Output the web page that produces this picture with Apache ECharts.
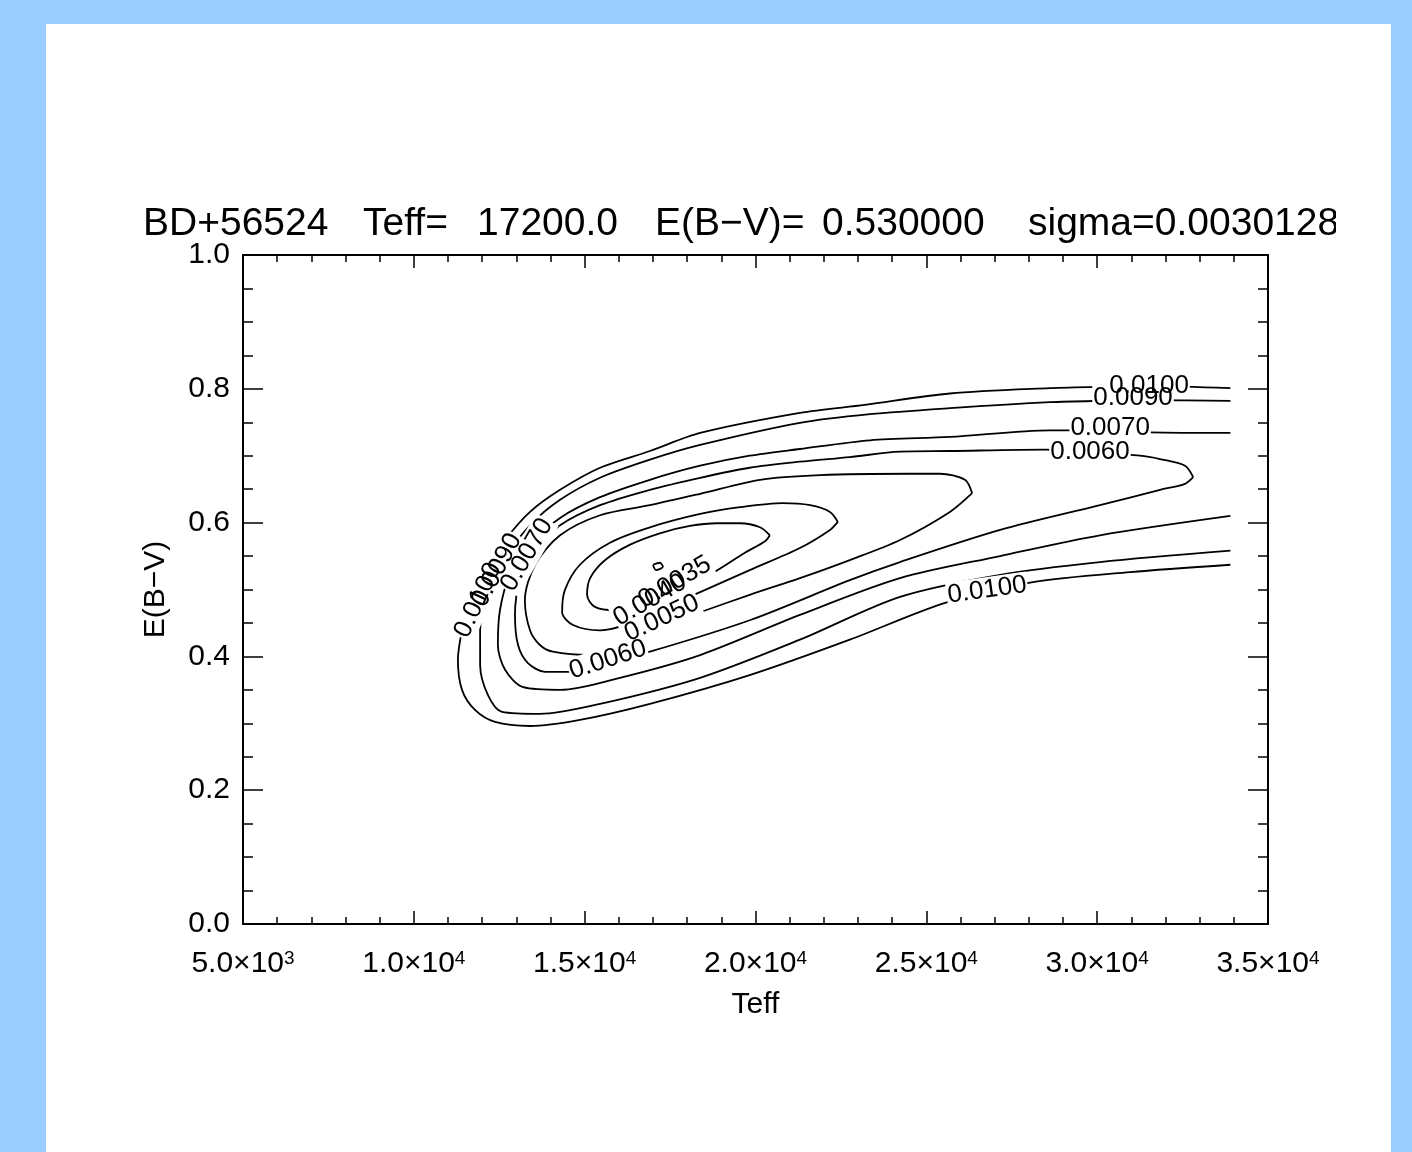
<!DOCTYPE html>
<html>
<head>
<meta charset="utf-8">
<script src="https://cdn.jsdelivr.net/npm/echarts@6/dist/echarts.min.js"></script>
<style>
  body { margin: 0; background: #99ccff; }
  #panel { position: absolute; left: 46px; top: 24px; width: 1345px; height: 1128px; background: #fff; }
  #main { position: absolute; left: 0; top: 0; width: 1336px; height: 1152px; }
</style>
</head>
<body>
<div id="panel"></div>
<div id="main"></div>
<script>
// contour lines, [Teff, E(B-V)]
var level0031 = [[17000,0.537],[17200,0.540],[17290,0.534],[17090,0.529],[17000,0.537]];
var level0035 = [[20420,0.581],[20130,0.593],[19550,0.599],[18870,0.599],[18080,0.595],[17200,0.584],[16330,0.567],[15600,0.544],[15160,0.517],[15070,0.492],[15300,0.474],[15890,0.469],[16910,0.484],[17790,0.499],[18760,0.525],[19690,0.555],[20280,0.572],[20420,0.581]];
var level0040 = [[22410,0.601],[22180,0.616],[21600,0.626],[20800,0.629],[19550,0.623],[18380,0.613],[16910,0.593],[15740,0.570],[14860,0.537],[14420,0.499],[14340,0.466],[14660,0.447],[15450,0.439],[16910,0.462],[18380,0.496],[19830,0.529],[21300,0.562],[22180,0.589],[22410,0.601]];
var level0050 = [[26340,0.644],[26130,0.664],[25400,0.673],[24520,0.673],[21890,0.671],[20130,0.664],[18380,0.643],[16910,0.626],[15450,0.611],[14280,0.581],[13550,0.537],[13250,0.484],[13400,0.439],[13690,0.417],[14070,0.407],[15160,0.402],[16910,0.439],[18380,0.466],[19830,0.492],[21300,0.517],[22760,0.544],[24230,0.574],[25690,0.616],[26340,0.644]];
var level0060 = [[32810,0.668],[32570,0.685],[31840,0.695],[31250,0.700],[28470,0.709],[25690,0.707],[24230,0.706],[22760,0.698],[21300,0.691],[19830,0.682],[18380,0.667],[16910,0.649],[15450,0.626],[14280,0.596],[13550,0.559],[13110,0.514],[12960,0.462],[13050,0.417],[13340,0.390],[13840,0.377],[14720,0.377],[16910,0.407],[19830,0.454],[22760,0.514],[24230,0.541],[27160,0.589],[30080,0.626],[31840,0.649],[32570,0.658],[32810,0.668]];
var level0070 = [[33900,0.734],[31550,0.735],[30080,0.738],[28620,0.738],[25690,0.728],[23350,0.723],[21300,0.710],[19830,0.700],[18380,0.685],[16910,0.664],[15450,0.638],[14280,0.607],[13400,0.567],[12810,0.522],[12520,0.469],[12460,0.417],[12670,0.380],[13200,0.354],[14280,0.350],[16030,0.368],[18380,0.402],[21300,0.462],[24230,0.517],[27160,0.550],[30080,0.581],[33900,0.610]];
var level0090 = [[33900,0.782],[31550,0.783],[30080,0.782],[28620,0.780],[25690,0.771],[23350,0.762],[21300,0.749],[18380,0.716],[16910,0.694],[15450,0.667],[14280,0.634],[13400,0.596],[12670,0.547],[12170,0.492],[11940,0.439],[11940,0.387],[12170,0.342],[12580,0.317],[13690,0.314],[15450,0.329],[18380,0.368],[21300,0.425],[24230,0.489],[27160,0.522],[30080,0.541],[33900,0.558]];
var level0100 = [[33900,0.801],[31550,0.804],[30080,0.803],[28620,0.801],[25690,0.793],[23200,0.776],[21300,0.764],[18380,0.734],[16910,0.707],[15450,0.682],[14280,0.649],[13400,0.616],[12670,0.574],[12080,0.529],[11640,0.484],[11410,0.439],[11290,0.395],[11410,0.350],[11790,0.320],[12380,0.302],[13400,0.296],[14860,0.305],[16910,0.329],[19830,0.372],[22760,0.425],[25550,0.480],[28120,0.511],[30960,0.526],[33900,0.537]];

// contour labels: [Teff, E(B-V), text, rotation]
var contourLabels = [
  [31050, 0.786, '0.0090', 0],
  [31520, 0.804, '0.0100', 0],
  [30380, 0.741, '0.0070', 0],
  [29790, 0.706, '0.0060', 0],
  [26780, 0.499, '0.0100', 8],
  [15680, 0.395, '0.0060', 18],
  [17260, 0.457, '0.0050', 25],
  [16910, 0.484, '0.0040', 30],
  [17640, 0.511, '0.0035', 30],
  [13310, 0.552, '0.0070', 60],
  [12430, 0.529, '0.0090', 62],
  [11880, 0.484, '0.0100', 65]
];

var xTicks = ['5.0', '1.0', '1.5', '2.0', '2.5', '3.0', '3.5'];
var xExp = ['3', '4', '4', '4', '4', '4', '4'];

var titleParts = ['BD+56524', 'Teff=', '17200.0', 'E(B\u2212V)=', '0.530000', 'sigma=0.0030128'];
var titleX = [143, 363, 477, 655, 822, 1028];
var font = 'Liberation Sans';

var chartDom = document.getElementById('main');
var myChart = echarts.init(chartDom);

var contours = [level0031, level0035, level0040, level0050, level0060, level0070, level0090, level0100];
var series = [];
for (var i = 0; i < contours.length; i++) {
    series.push({
        type: 'line',
        data: contours[i],
        showSymbol: false,
        smooth: 0.3,
        silent: true,
        lineStyle: { color: '#000', width: 1.8 },
        z: 2
    });
}
// two passes: first white boxes that cut the lines, then the digits on top
function labelSeries(withBox, z) {
    return {
        type: 'scatter',
        symbolSize: 0,
        silent: true,
        z: z,
        itemStyle: { color: '#000', opacity: 0 },
        data: contourLabels.map(function (d) {
            return {
                value: [d[0], d[1]],
                label: {
                    show: true,
                    position: 'inside',
                    rotate: d[3],
                    formatter: d[2],
                    color: withBox ? '#fff' : '#000',
                    opacity: 1,
                    textBorderWidth: 0,
                    textBorderColor: 'transparent',
                    fontFamily: font,
                    fontSize: 26,
                    backgroundColor: withBox ? '#fff' : 'transparent',
                    padding: [0, 1]
                }
            };
        })
    };
}
series.push(labelSeries(true, 3));
series.push(labelSeries(false, 4));

var titleGraphics = titleParts.map(function (t, k) {
    return {
        type: 'text', left: titleX[k], top: 205, z: 10,
        style: { text: t, font: '39px "' + font + '"', fill: '#000' }
    };
});

var frame = { show: true, onZero: false, lineStyle: { color: '#000', width: 2 } };
var tickStyle = { color: '#000', width: 1.5 };

var option = {
    animation: false,
    graphic: titleGraphics,
    grid: { left: 243, top: 255, width: 1025, height: 669 },
    xAxis: [{
        type: 'value', min: 5000, max: 35000, interval: 5000,
        axisLine: frame,
        axisTick: { inside: true, length: 13, lineStyle: tickStyle },
        minorTick: { show: true, splitNumber: 5, length: 7, lineStyle: tickStyle },
        splitLine: { show: false },
        axisLabel: {
            margin: 25,
            formatter: function (v) {
                var k = Math.round((v - 5000) / 5000);
                return '{m|' + xTicks[k] + '\u00d710}{s|' + xExp[k] + '}';
            },
            rich: {
                m: { fontFamily: font, fontSize: 30, color: '#000' },
                s: { fontFamily: font, fontSize: 19, color: '#000', verticalAlign: 'top' }
            }
        },
        name: 'Teff', nameLocation: 'middle', nameGap: 66,
        nameTextStyle: { fontFamily: font, fontSize: 30, color: '#000' }
    }, {
        type: 'value', position: 'top', min: 5000, max: 35000, interval: 5000,
        axisLine: frame,
        axisTick: { inside: true, length: 13, lineStyle: tickStyle },
        minorTick: { show: true, splitNumber: 5, length: 7, lineStyle: tickStyle },
        splitLine: { show: false },
        axisLabel: { show: false }
    }],
    yAxis: [{
        type: 'value', min: 0, max: 1, interval: 0.2,
        axisLine: frame,
        axisTick: { inside: true, length: 20, lineStyle: tickStyle },
        minorTick: { show: true, splitNumber: 4, length: 10, lineStyle: tickStyle },
        splitLine: { show: false },
        axisLabel: {
            margin: 13, fontFamily: font, fontSize: 30, color: '#000',
            formatter: function (v) { return v.toFixed(1); }
        },
        name: 'E(B\u2212V)', nameLocation: 'middle', nameGap: 72, nameRotate: 90,
        nameTextStyle: { fontFamily: font, fontSize: 30, color: '#000' }
    }, {
        type: 'value', position: 'right', min: 0, max: 1, interval: 0.2,
        axisLine: frame,
        axisTick: { inside: true, length: 20, lineStyle: tickStyle },
        minorTick: { show: true, splitNumber: 4, length: 10, lineStyle: tickStyle },
        splitLine: { show: false },
        axisLabel: { show: false }
    }],
    series: series
};
option && myChart.setOption(option);
</script>
</body>
</html>
